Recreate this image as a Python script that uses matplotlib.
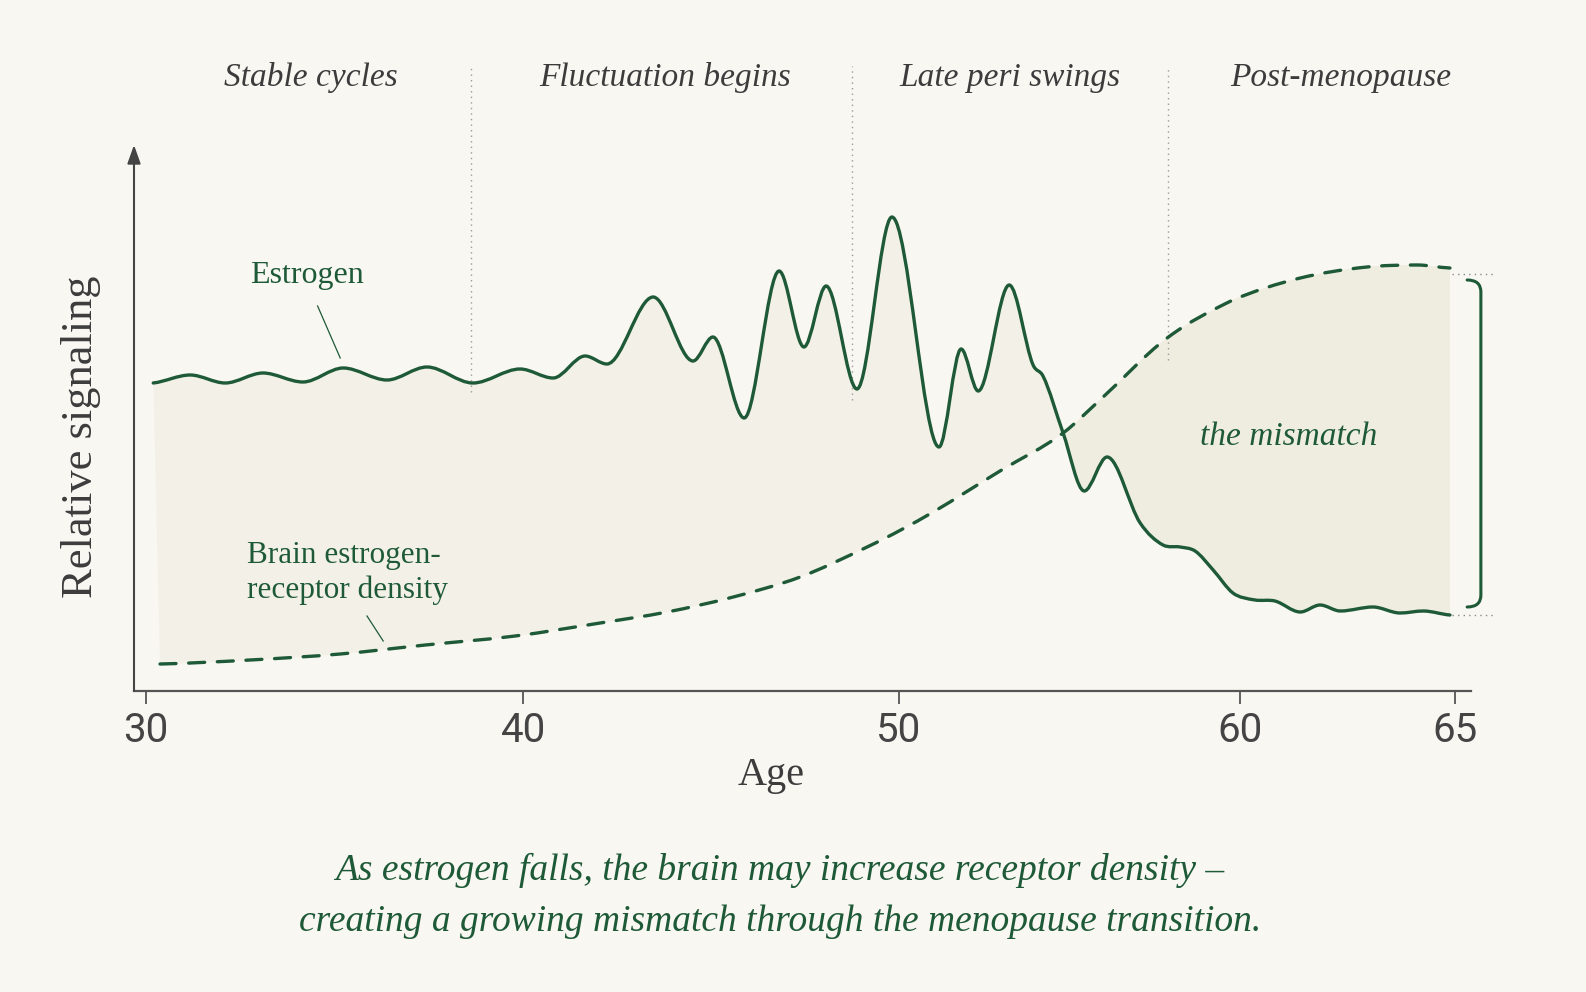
import numpy as np
import matplotlib
matplotlib.use("Agg")
import matplotlib.pyplot as plt
from matplotlib.path import Path
from matplotlib.patches import PathPatch, Rectangle

# data (age, relative signaling)
est_age = [30.19, 31.17, 32.10, 33.10, 34.16, 35.23, 36.39, 37.45, 38.67, 39.92,
           40.80, 41.65, 42.23, 43.46, 44.52, 45.05, 45.88, 46.81, 47.47, 48.06,
           48.88, 49.81, 51.17, 51.82, 52.32, 53.23, 53.93, 54.22, 54.81, 55.43,
           56.10, 57.07, 57.74, 58.24, 58.68, 59.21, 59.79, 60.35, 60.81, 61.40,
           61.86, 62.33, 63.09, 63.72, 64.26, 64.88]
est_val = [61.6, 63.2, 61.6, 63.6, 61.8, 64.6, 62.2, 64.8, 61.6, 64.4,
           62.6, 67.0, 65.4, 78.8, 66.0, 70.8, 54.6, 84.0, 68.8, 81.0,
           60.4, 94.8, 48.8, 68.4, 60.0, 81.2, 65.2, 63.0, 51.6, 40.0,
           46.8, 33.6, 29.2, 28.8, 28.0, 24.2, 19.6, 18.2, 18.0, 15.8,
           17.2, 16.0, 16.8, 15.6, 16.0, 15.2]

dens_age = [30.37, 32.76, 35.15, 37.41, 39.79, 42.05, 43.83, 45.59, 47.37, 49.15,
            51.00, 52.96, 54.81, 55.89, 57.86, 59.79, 61.40, 62.95, 64.12, 64.88]
dens_val = [5.4, 6.2, 7.4, 9.2, 11.0, 13.6, 15.8, 18.8, 22.8, 28.8,
            35.8, 44.0, 51.6, 58.2, 70.6, 78.2, 82.6, 84.8, 85.2, 84.6]

phase_names = ["Stable cycles", "Fluctuation begins", "Late peri swings", "Post-menopause"]
phase_mid = [34.38, 43.78, 53.26, 62.35]
phase_edges = [38.62, 48.75, 57.89]
edge_bottoms = [59.8, 58.2, 66.2]
cross_age = 54.81  # where the curves meet

xticks = [30, 40, 50, 60, 65]
# uneven spacing of the printed age axis (pixels from age 30)
tick_px = [0, 377, 753, 1094, 1309]

green = "#1e5a37"
bg = "#f9f7f2"
fill_light = "#f3f1e7"
fill_dark = "#efede0"
grey_txt = "#3c3c3c"
axis_col = "#555555"

scale_ages = [20] + xticks + [70]
scale_px = [-377] + tick_px + [1309 + 5 * 43]


def fwd(a):
    return np.interp(a, scale_ages, scale_px)


def inv(p):
    return np.interp(p, scale_px, scale_ages)


def smooth_verts(xs, ys):
    # cubic bezier through the knots, flat at peaks and troughs
    xs = np.asarray(xs, float)
    ys = np.asarray(ys, float)
    d = np.diff(ys) / np.diff(xs)
    m = np.zeros(len(xs))
    for i in range(1, len(xs) - 1):
        if d[i - 1] * d[i] > 0:
            m[i] = (d[i - 1] + d[i]) / 2
    m[0] = d[0] * 0.5
    m[-1] = d[-1] * 0.5
    verts = [(xs[0], ys[0])]
    for i in range(len(xs) - 1):
        h = xs[i + 1] - xs[i]
        verts.append((xs[i] + h / 3, ys[i] + m[i] * h / 3))
        verts.append((xs[i + 1] - h / 3, ys[i + 1] - m[i + 1] * h / 3))
        verts.append((xs[i + 1], ys[i + 1]))
    return verts


def curve_path(verts):
    codes = [Path.MOVETO] + [Path.CURVE4] * (len(verts) - 1)
    return Path(verts, codes)


plt.rcParams['font.family'] = ['Liberation Serif', 'DejaVu Serif']
fig = plt.figure(figsize=(15.86, 9.92), dpi=100, facecolor=bg)
ax = fig.add_axes([134 / 1586, 301 / 992, 1337 / 1586, 546 / 992])
ax.set_facecolor(bg)
ax.set_xscale('function', functions=(fwd, inv))
ax.set_xlim(29.68, 65.37)
ax.set_ylim(0, 109.2)

est_v = smooth_verts(est_age, est_val)
dens_v = smooth_verts(dens_age, dens_val)

# shaded area between the two curves
fill_verts = est_v + dens_v[::-1] + [est_v[0]]
fill_codes = ([Path.MOVETO] + [Path.CURVE4] * (len(est_v) - 1) + [Path.LINETO]
              + [Path.CURVE4] * (len(dens_v) - 1) + [Path.CLOSEPOLY])
fill_path = Path(fill_verts, fill_codes)
ax.add_patch(PathPatch(fill_path, facecolor=fill_light, edgecolor='none', zorder=1))
mism = PathPatch(fill_path, facecolor=fill_dark, edgecolor='none', zorder=1.1)
ax.add_patch(mism)
clip = Rectangle((cross_age, 0), 20, 200, transform=ax.transData, visible=False)
ax.add_patch(clip)
mism.set_clip_path(clip)

ax.add_patch(PathPatch(curve_path(est_v), fill=False, edgecolor=green, lw=2.4,
                       capstyle='round', joinstyle='round', zorder=4))
ax.add_patch(PathPatch(curve_path(dens_v), fill=False, edgecolor=green, lw=2.4,
                       linestyle=(0, (4.8, 3.8)), capstyle='round', zorder=4))

# phase separators and labels
for xe, yb in zip(phase_edges, edge_bottoms):
    ax.plot([xe, xe], [yb, 125], color="#9a9a9a", lw=1, ls=(0, (1, 3)),
            clip_on=False, zorder=2)
for name, xm in zip(phase_names, phase_mid):
    ax.text(xm, 122.7, name, ha='center', va='center', fontsize=24,
            style='italic', color=grey_txt)

# mismatch bracket
top = dens_val[-1]
bot = est_val[-1]
for yy in [top - 1.2, bot]:
    ax.plot([64.93, 65.88], [yy, yy], color="#8a8a8a", lw=1, ls=(0, (1, 3)),
            clip_on=False)
bx, hx = 65.60, 65.28
b_verts = [(hx, top - 2.4), (bx, top - 2.4), (bx, top - 4.8), (bx, bot + 4.0),
           (bx, bot + 1.6), (hx, bot + 1.6)]
b_codes = [Path.MOVETO, Path.CURVE3, Path.CURVE3, Path.LINETO, Path.CURVE3, Path.CURVE3]
ax.add_patch(PathPatch(Path(b_verts, b_codes), fill=False, edgecolor=green, lw=2.2,
                       clip_on=False, capstyle='round'))
ax.text(61.12, 50.8, "the mismatch", ha='center', va='center', fontsize=24,
        style='italic', color=green)

# curve labels
ax.text(34.27, 83.2, "Estrogen", ha='center', va='center', fontsize=23, color=green)
ax.plot([34.55, 35.15], [77.0, 66.6], color=green, lw=0.9)
ax.text(32.68, 23.6, "Brain estrogen-\nreceptor density", ha='left', va='center',
        fontsize=22.5, color=green, linespacing=1.22)
ax.plot([35.86, 36.29], [15.0, 10.0], color=green, lw=0.9)

# axes
for s in ['top', 'right', 'left']:
    ax.spines[s].set_visible(False)
ax.spines['bottom'].set_color(axis_col)
ax.spines['bottom'].set_linewidth(1.6)
ax.annotate('', xy=(0, 1), xytext=(0, 0), xycoords='axes fraction',
            arrowprops=dict(arrowstyle='-|>,head_width=0.25,head_length=0.7',
                            color="#444444", lw=1.5, mutation_scale=16,
                            shrinkA=0, shrinkB=0))
ax.set_yticks([])
ax.set_xticks(xticks)
ax.set_xticklabels([str(t) for t in xticks], fontfamily='Roboto', fontsize=29,
                   color="#444444")
ax.xaxis.set_minor_locator(matplotlib.ticker.NullLocator())
ax.tick_params(axis='x', length=9.5, width=1.3, color=axis_col, pad=5)

fig.text(771 / 1586, 1 - 775 / 992, "Age", ha='center', va='center', fontsize=29,
         color=grey_txt)
fig.text(81 / 1586, 1 - 437 / 992, "Relative signaling", ha='center', va='center',
         rotation=90, fontsize=32, color=grey_txt)

fig.text(780 / 1586, 1 - 870 / 992,
         "As estrogen falls, the brain may increase receptor density \u2013",
         ha='center', va='center', fontsize=27, style='italic', color=green)
fig.text(780 / 1586, 1 - 922 / 992,
         "creating a growing mismatch through the menopause transition.",
         ha='center', va='center', fontsize=27, style='italic', color=green)

fig.savefig("out.png", dpi=100, facecolor=bg)
